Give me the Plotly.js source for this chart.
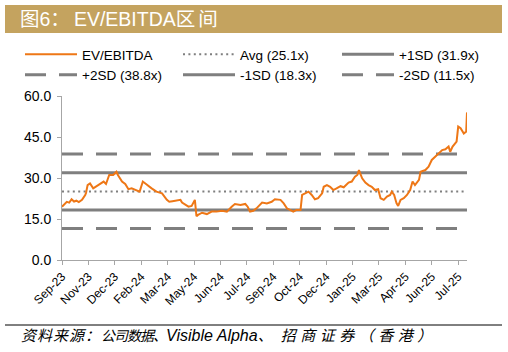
<!DOCTYPE html>
<html>
<head>
<meta charset="utf-8">
<script src="https://cdn.plot.ly/plotly-3.0.1.min.js"></script>
<style>html,body{margin:0;padding:0;background:#fff;}#chart{width:508px;height:352px;}</style>
</head>
<body>
<div id="chart"></div>
<script>
// ---- data ----
// trading-day index since start of series
const dayIdx = [0,3,6,9,12,15,18,21,25,29,30,32,35,39,43,48,52,55,59,64,68,70,75,79,83,87,91,97,101,106,112,118,125,131,134,138,141,148,150,154,158,162,166,168,170,175,181,187,193,200,206,212,216,223,229,232,235,239,243,250,256,262,266,273,277,281,285,289,293,298,300,304,308,312,316,320,325,327,331,335,339,343,348,352,358,362,366,369,371,375,379,383,387,391,395,398,402,406,410,412,415,418,420,423,427,431,435,438,441,446,448,454,458,462,466,470,475,479,483,485,488,493,495,498,502,505,506];
const evEbitda = [19.5,20.3,21.3,21.0,22.2,21.4,21.7,21.2,22.0,23.8,24.5,27.4,28.0,26.2,27.0,27.8,28.7,27.8,31.1,31.1,32.3,31.0,28.7,27.8,25.9,26.2,25.6,25.0,28.7,27.4,26.2,25.0,24.4,22.0,21.3,21.5,21.7,22.0,21.0,20.1,19.5,19.8,22.0,16.0,16.5,17.3,16.8,17.7,17.7,18.0,17.7,19.5,20.5,20.1,20.5,19.5,17.7,18.0,18.9,21.0,20.7,21.3,22.2,22.0,20.7,18.9,18.3,17.7,18.3,18.3,23.8,24.4,25.0,23.8,22.2,22.6,24.4,26.8,27.4,26.8,25.6,26.2,27.0,26.6,28.3,28.7,30.5,31.1,32.9,29.9,28.3,27.4,26.8,25.6,25.9,22.6,22.0,23.2,23.8,25.0,23.8,20.7,19.8,22.0,22.6,23.8,25.6,28.7,27.4,29.3,32.3,32.9,34.1,36.6,37.8,39.0,40.2,40.5,41.5,39.6,41.5,43.3,48.8,48.2,46.3,47.0,54.0];
const bandNames = ["Avg (25.1x)","+1SD (31.9x)","+2SD (38.8x)","-1SD (18.3x)","-2SD (11.5x)"];
const bandValues = [25.1,31.9,38.8,18.3,11.5];
const tickDays = [0,33,66,99,132,165,198,231,264,297,330,363,396,429,462,495];
const tickLabels = ["Sep-23","Nov-23","Dec-23","Feb-24","Mar-24","May-24","Jun-24","Jul-24","Sep-24","Oct-24","Dec-24","Jan-25","Mar-25","Apr-25","Jun-25","Jul-25"];
const xEnd = 506;

// ---- styles ----
const W = 508, H = 352;
const M = {l:62, r:41, t:96, b:92};
const pw = W - M.l - M.r, ph = H - M.t - M.b;
const px = x => (x - M.l) / pw;
const py = y => (H - M.b - y) / ph;

const gray = '#7f7f7f';
const bandStyles = [
  {dash:'2px,3.4px', width:2, legend:'legend2', rank:1},
  {dash:'solid', width:3, legend:'legend3', rank:1},
  {dash:'21px,13px', width:3, legend:'legend', rank:2},
  {dash:'solid', width:3, legend:'legend2', rank:2},
  {dash:'21px,13px', width:3, legend:'legend3', rank:2}
];

const traces = bandNames.map((n, i) => ({
  type:'scatter', mode:'lines', name:n,
  x:[0, xEnd], y:[bandValues[i], bandValues[i]],
  line:{color:gray, width:bandStyles[i].width, dash:bandStyles[i].dash},
  legend:bandStyles[i].legend, legendrank:bandStyles[i].rank, hoverinfo:'skip'
}));
traces.push({
  type:'scatter', mode:'lines', name:'EV/EBITDA',
  x:dayIdx, y:evEbitda,
  line:{color:'#ee7716', width:2},
  legend:'legend', legendrank:1
});

const font = 'Liberation Sans, Arial, Noto Sans CJK SC, sans-serif';
const legendBase = {orientation:'v', xanchor:'left', yanchor:'top', y:py(39),
  font:{size:13.5, color:'#000'}, traceorder:'normal', itemwidth:52,
  bgcolor:'rgba(0,0,0,0)', tracegroupgap:0};
const layout = {
  width:W, height:H,
  margin:M,
  paper_bgcolor:'#fff', plot_bgcolor:'#fff',
  font:{family:font, size:12, color:'#000'},
  showlegend:true,
  legend:Object.assign({}, legendBase, {x:px(20)}),
  legend2:Object.assign({}, legendBase, {x:px(178)}),
  legend3:Object.assign({}, legendBase, {x:px(337)}),
  xaxis:{range:[0, xEnd], tickmode:'array', tickvals:tickDays, ticktext:tickLabels,
         tickangle:-45, showline:true, linecolor:'#a6a6a6', linewidth:1,
         ticks:'outside', ticklen:4, tickcolor:'#a6a6a6', showgrid:false, zeroline:false,
         tickfont:{size:12, color:'#000'}},
  yaxis:{range:[0,60], tickmode:'array', tickvals:[0,15,30,45,60], tickformat:'.1f',
         showline:true, linecolor:'#a6a6a6', linewidth:1, ticks:'outside', ticklen:4,
         tickcolor:'#a6a6a6', showgrid:false, zeroline:false, ticklabelstandoff:3,
         tickfont:{size:14, color:'#000'}},
  shapes:[
    {type:'rect', xref:'paper', yref:'paper', x0:px(5), x1:px(502), y0:py(33), y1:py(5),
     fillcolor:'#c4a35f', line:{width:0}, layer:'below'},
    {type:'line', xref:'paper', yref:'paper', x0:px(5), x1:px(502), y0:py(325), y1:py(325),
     line:{color:'#000', width:1}}
  ],
  annotations:[
    {xref:'paper', yref:'paper', x:px(18), y:py(19), xanchor:'left', yanchor:'middle',
     showarrow:false, text:'图6<span style="letter-spacing:4px">：</span>EV/EBITDA<span style="letter-spacing:3px">区间</span>',
     font:{family:'Liberation Sans, Noto Sans CJK SC, sans-serif', size:19.5, color:'#fff'}},
    {xref:'paper', yref:'paper', x:px(19), y:py(335), xanchor:'left', yanchor:'middle',
     showarrow:false,
     text:'<i><span style="font-size:15px;letter-spacing:1px">资料来源：</span><span style="font-size:14px;letter-spacing:-1px">公司数据、</span>Visible Alpha<span style="font-size:15px;letter-spacing:8px">、</span><span style="font-size:15px;letter-spacing:4.5px">招商证券（香港）</span></i>',
     font:{family:'Liberation Sans, Noto Sans CJK SC, sans-serif', size:16, color:'#000'}}
  ]
};

Plotly.newPlot('chart', traces, layout, {staticPlot:true, displayModeBar:false});
</script>
</body>
</html>
